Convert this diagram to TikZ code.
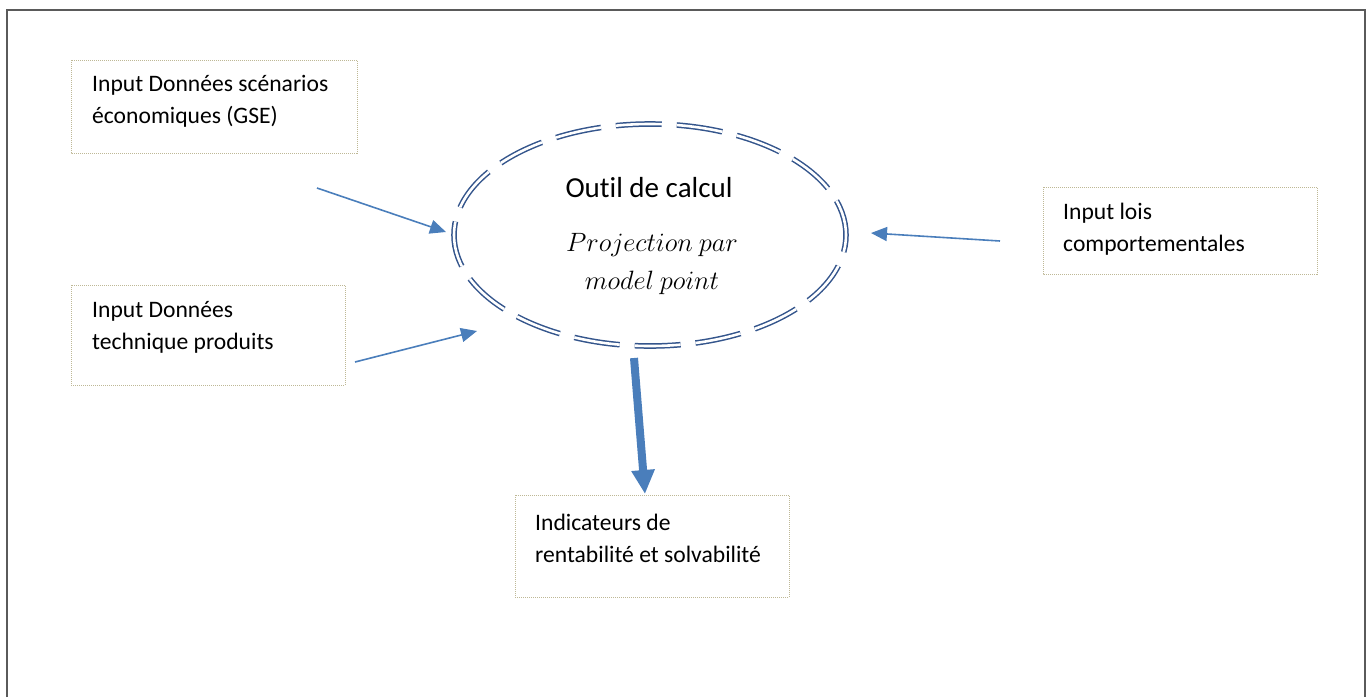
\documentclass[tikz,border=0pt]{standalone}
\usepackage{fontspec}
\setmainfont{Carlito}[Ligatures={NoCommon}]
\usetikzlibrary{arrows.meta,shapes.geometric}
\definecolor{ellblue}{RGB}{52,85,140}
\definecolor{arrblue}{RGB}{74,126,187}
\definecolor{boxtan}{RGB}{190,184,150}
\definecolor{framegray}{RGB}{90,90,90}
\tikzset{
  boxline/.style={draw=boxtan, line width=1pt, dash pattern=on 1pt off 1pt},
  boxtxt/.style={anchor=west, inner sep=0pt, font=\fontsize{23.6}{32}\selectfont, align=left},
  thin arrow/.style={draw=arrblue, line width=1.6pt, -{Triangle[width=14pt,length=16pt]}},
  thick arrow/.style={draw=arrblue, line width=8pt, -{Triangle[width=22pt,length=24pt]}},
}
\begin{document}
\begin{tikzpicture}[x=1pt,y=-1pt]
\useasboundingbox (0,0) rectangle (1371,697);
% outer frame
\draw[framegray, line width=2pt] (7,697) -- (7,10) -- (1365,10) -- (1365,697);

% boxes
\draw[boxline] (71,60) rectangle (357,153);
\node[boxtxt] (b1) at (92,101) {Input Données scénarios\\économiques (GSE)};
\draw[boxline] (71,285) rectangle (345,385);
\node[boxtxt] (b2) at (92,327) {Input Données\\technique produits};
\draw[boxline] (1043,187) rectangle (1317,274);
\node[boxtxt] (b3) at (1063,229) {Input lois\\comportementales};
\draw[boxline] (515,495) rectangle (789,597);
\node[boxtxt] (b4) at (535,538) {Indicateurs de\\rentabilité et solvabilité};

% ellipse
\node[ellipse, draw=ellblue, line width=1.5pt, double=white, double distance=2.6pt,
      dash pattern=on 46pt off 15pt, dash phase=10pt, minimum width=392pt, minimum height=222pt] (e) at (650,235) {};
\node[font=\fontsize{29}{34}\selectfont] (t1) at (649,188) {Outil de calcul};
\node[font=\fontsize{24.88}{36}\selectfont, align=center, scale=1.065] (t2) at (652,264) {$Projection\ par$\\$model\ point$};

% arrows
\coordinate (a1s) at (317,188); \coordinate (a1e) at (446,232);
\draw[thin arrow] (a1s) -- (a1e);
\coordinate (a2s) at (355,362); \coordinate (a2e) at (477,331);
\draw[thin arrow] (a2s) -- (a2e);
\coordinate (a3s) at (1000,241); \coordinate (a3e) at (871,233);
\draw[thin arrow] (a3s) -- (a3e);
\coordinate (a4s) at (634,358); \coordinate (a4e) at (645,494);
\draw[thick arrow] (a4s) -- (a4e);
\end{tikzpicture}
\end{document}
